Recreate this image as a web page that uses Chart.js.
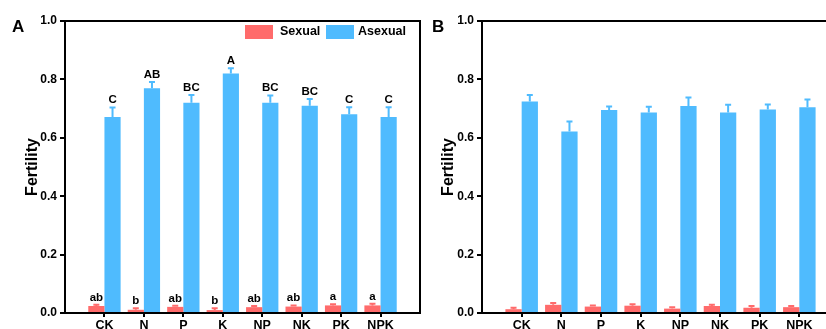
<!DOCTYPE html>
<html>
<head>
<meta charset="utf-8">
<script src="https://cdn.jsdelivr.net/npm/chart.js@4.4.1/dist/chart.umd.min.js"></script>
<style>
  html, body { margin: 0; padding: 0; background: #fff; overflow: hidden; width: 826px; height: 329px; }
  canvas { position: absolute; top: 0; }
  #chartA { left: 0; }
  #chartB { left: 424px; }
</style>
</head>
<body>
<canvas id="chartA" width="424" height="329"></canvas>
<canvas id="chartB" width="430" height="329"></canvas>
<script>
// Treatments
const categories = ['CK', 'N', 'P', 'K', 'NP', 'NK', 'PK', 'NPK'];
const yTicks = [0, 0.2, 0.4, 0.6, 0.8, 1.0];

// Panel A: fertility means and standard errors
const sexualA = [0.024, 0.011, 0.021, 0.010, 0.020, 0.022, 0.026, 0.026];
const sexualAErr = [0.004, 0.005, 0.004, 0.006, 0.004, 0.004, 0.004, 0.006];
const asexualA = [0.671, 0.770, 0.720, 0.820, 0.720, 0.710, 0.681, 0.671];
const asexualAErr = [0.033, 0.021, 0.027, 0.018, 0.025, 0.023, 0.024, 0.034];
const sexualALetters = ['ab', 'b', 'ab', 'b', 'ab', 'ab', 'a', 'a'];
const asexualALetters = ['C', 'AB', 'BC', 'A', 'BC', 'BC', 'C', 'C'];

// Panel B: fertility means and standard errors
const sexualB = [0.013, 0.028, 0.022, 0.025, 0.015, 0.024, 0.018, 0.020];
const sexualBErr = [0.005, 0.006, 0.004, 0.005, 0.005, 0.004, 0.006, 0.004];
const asexualB = [0.724, 0.622, 0.695, 0.687, 0.709, 0.687, 0.697, 0.705];
const asexualBErr = [0.023, 0.034, 0.012, 0.019, 0.029, 0.026, 0.017, 0.026];

const RED = '#FF6B6B';
const BLUE = '#4FBBFE';
const FONT = '"Liberation Sans", Arial, sans-serif';

// one empty slot on each side of the treatments
const pad = arr => [null, ...arr, null];
const axisLabels = pad(categories).map(v => v === null ? '' : v);

// Upward error bars with significance letters above them
const errorBarPlugin = {
  id: 'errorBars',
  afterDatasetsDraw(chart) {
    const ctx = chart.ctx;
    const y = chart.scales.y;
    chart.data.datasets.forEach((ds, di) => {
      const meta = chart.getDatasetMeta(di);
      meta.data.forEach((bar, i) => {
        const v = ds.data[i];
        if (v === null || v === undefined) return;
        const e = ds.errors[i - 1];
        const yTop = y.getPixelForValue(v + e);
        ctx.save();
        ctx.strokeStyle = ds.backgroundColor;
        ctx.lineWidth = 2;
        ctx.beginPath();
        ctx.moveTo(bar.x, bar.y);
        ctx.lineTo(bar.x, yTop);
        ctx.moveTo(bar.x - 3, yTop);
        ctx.lineTo(bar.x + 3, yTop);
        ctx.stroke();
        if (ds.letters) {
          ctx.fillStyle = '#000';
          ctx.font = 'bold 11.5px ' + FONT;
          ctx.textAlign = 'center';
          ctx.textBaseline = 'alphabetic';
          ctx.fillText(ds.letters[i - 1], bar.x, yTop - 4);
        }
        ctx.restore();
      });
    });
  }
};

// Top and right border of the plot frame, plus panel letter and legend
const framePlugin = {
  id: 'frame',
  afterDraw(chart, args, opts) {
    const ctx = chart.ctx;
    const a = chart.chartArea;
    ctx.save();
    ctx.strokeStyle = '#000';
    ctx.lineWidth = 2;
    ctx.beginPath();
    ctx.moveTo(a.left, a.top);
    ctx.lineTo(a.right, a.top);
    ctx.lineTo(a.right, a.bottom);
    ctx.stroke();

    ctx.fillStyle = '#000';
    ctx.font = 'bold 17px ' + FONT;
    ctx.textAlign = 'left';
    ctx.textBaseline = 'alphabetic';
    ctx.fillText(opts.letter, opts.letterX, 32);

    if (opts.legend) {
      const ds = chart.data.datasets;
      ctx.font = 'bold 12.5px ' + FONT;
      ctx.textBaseline = 'middle';
      ctx.fillStyle = ds[0].backgroundColor;
      ctx.fillRect(245, 25, 28, 14);
      ctx.fillStyle = '#000';
      ctx.fillText(ds[0].label, 280, 32);
      ctx.fillStyle = ds[1].backgroundColor;
      ctx.fillRect(326, 25, 28, 14);
      ctx.fillStyle = '#000';
      ctx.fillText(ds[1].label, 358, 32);
    }
    ctx.restore();
  }
};

function makeChart(id, sexual, sexualErr, asexual, asexualErr, sexLetters, asexLetters, o) {
  return new Chart(document.getElementById(id), {
    type: 'bar',
    data: {
      labels: axisLabels,
      datasets: [
        { label: 'Sexual', data: pad(sexual), errors: sexualErr, letters: sexLetters,
          backgroundColor: RED, borderWidth: 0 },
        { label: 'Asexual', data: pad(asexual), errors: asexualErr, letters: asexLetters,
          backgroundColor: BLUE, borderWidth: 0 }
      ]
    },
    options: {
      responsive: false,
      animation: false,
      devicePixelRatio: 1,
      categoryPercentage: 0.82,
      barPercentage: 1.0,
      layout: { padding: { left: 0, right: o.padRight, top: 21, bottom: 0 } },
      plugins: {
        legend: { display: false },
        tooltip: { enabled: false },
        frame: { letter: o.letter, letterX: o.letterX, legend: o.legend }
      },
      scales: {
        x: {
          type: 'category',
          offset: false,
          border: { color: '#000', width: 2 },
          grid: {
            drawOnChartArea: false,
            offset: false,
            tickLength: 4,
            lineWidth: 2,
            tickColor: ctx => (ctx.tick && ctx.tick.label !== '' ? '#000' : 'rgba(0,0,0,0)')
          },
          ticks: {
            color: '#000',
            font: { family: FONT, size: 12.5, weight: 'bold' },
            padding: 1,
            autoSkip: false,
            maxRotation: 0
          },
          afterFit: s => { s.height = 16; }
        },
        y: {
          min: 0,
          max: 1,
          border: { color: '#000', width: 2 },
          grid: { drawOnChartArea: false, tickLength: 5, lineWidth: 2, tickColor: '#000' },
          afterBuildTicks: s => { s.ticks = yTicks.map(v => ({ value: v })); },
          ticks: {
            color: '#000',
            font: { family: FONT, size: 12, weight: 'bold' },
            padding: 3,
            callback: v => Number(v).toFixed(1)
          },
          title: {
            display: true,
            text: 'Fertility',
            color: '#000',
            font: { family: FONT, size: 16, weight: 'bold' },
            padding: { top: o.titlePad, bottom: 0 }
          },
          afterFit: s => { s.width = o.axisWidth; }
        }
      }
    },
    plugins: [errorBarPlugin, framePlugin]
  });
}

makeChart('chartA', sexualA, sexualAErr, asexualA, asexualAErr, sexualALetters, asexualALetters,
  { padRight: 4, axisWidth: 65, titlePad: 23, letter: 'A', letterX: 12, legend: true });
makeChart('chartB', sexualB, sexualBErr, asexualB, asexualBErr, null, null,
  { padRight: 15, axisWidth: 58, titlePad: 15, letter: 'B', letterX: 8, legend: false });
</script>
</body>
</html>
